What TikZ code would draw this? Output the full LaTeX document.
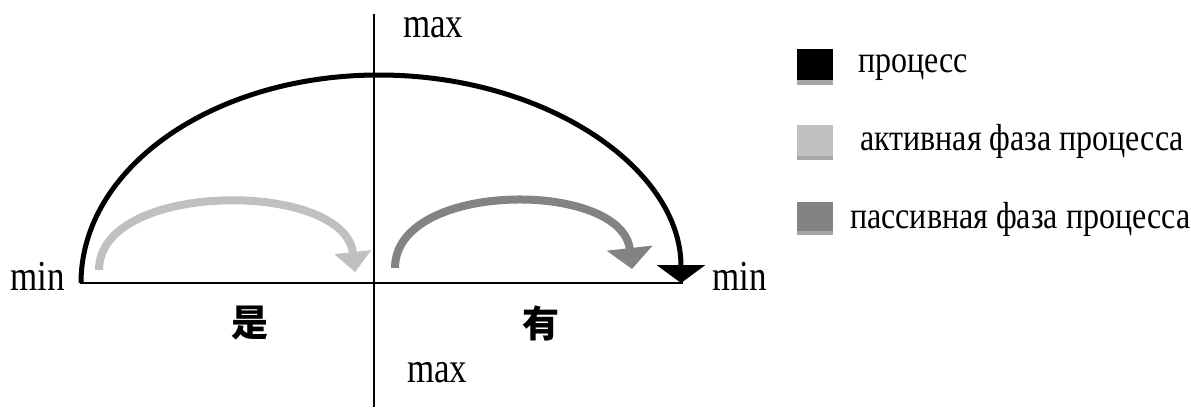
\documentclass[tikz,border=0pt]{standalone}
\usepackage{fontspec}
\setmainfont{Liberation Serif}
\newfontfamily\cjk{Noto Sans CJK SC}
\usetikzlibrary{arrows.meta}
\definecolor{lightg}{HTML}{C0C0C0}
\definecolor{darkg}{HTML}{838383}
\definecolor{shadowg}{HTML}{A6A6A6}
\tikzset{
  axis/.style={line width=2pt, black},
  lbl/.style={inner sep=0pt, anchor=base west, transform shape, yscale=1.22, font=\fontsize{35}{40}\selectfont},
  leg/.style={inner sep=0pt, anchor=base west, transform shape, yscale=1.18, font=\fontsize{32}{38}\selectfont},
  cjklbl/.style={inner sep=0pt, font=\cjk\bfseries\fontsize{37}{40}\selectfont},
  blackarrow/.style={line width=5pt, black, -{Triangle[width=48pt,length=18pt]}},
  lightarrow/.style={line width=8pt, lightg, -{Triangle[width=36pt,length=20pt]}},
  darkarrow/.style={line width=8pt, darkg, -{Triangle[width=45pt,length=21pt]}},
  legbox/.style={inner sep=0pt, minimum width=36pt, minimum height=31pt, anchor=north west},
  legbar/.style={fill=shadowg, draw=none}
}
\begin{document}
\begin{tikzpicture}[x=1pt,y=-1pt]
\useasboundingbox (0,0) rectangle (1191,407);
% axes
\coordinate (vtop) at (374,14);
\coordinate (vbot) at (374,407);
\coordinate (hl) at (80,283);
\coordinate (hr) at (683,283);
\draw[axis] (vtop) -- (vbot);
\draw[axis] (hl) -- (hr);
% axis labels
\node[lbl] (maxtop) at (403,37) {max};
\node[lbl] (maxbot) at (407,382) {max};
\node[lbl] (minl) at (10,290) {min};
\node[lbl] (minr) at (712,290) {min};
\node[cjklbl] (shi) at (250,323) {是};
\node[cjklbl] (you) at (541,323) {有};
% black process arc
\coordinate (bks) at (81,283);
\coordinate (bkt) at (379,75);
\coordinate (bke) at (681,283);
\draw[blackarrow] (bks) .. controls (81,168) and (213,75) .. (bkt)
  .. controls (545,75) and (681,168) .. (bke);
% light gray (active)
\coordinate (lgs) at (99,270);
\coordinate (lge) at (355,272);
\draw[lightarrow] (lgs) .. controls (99,180) and (345,180) .. (lge);
% dark gray (passive)
\coordinate (dgs) at (395,268);
\coordinate (dge) at (632,269);
\draw[darkarrow] (dgs) .. controls (395,180) and (622,180) .. (dge);
% legend
\fill[legbar] (797,80) rectangle (833,85);
\node[legbox, fill=black] (lb1) at (797,49) {};
\fill[legbar] (797,156) rectangle (833,160);
\node[legbox, fill=lightg] (lb2) at (797,125) {};
\fill[legbar] (797,231) rectangle (833,235);
\node[legbox, fill=darkg, minimum height=29pt] (lb3) at (797,202) {};
\node[leg] (lt1) at (858,72) {процесс};
\node[leg] (lt2) at (860,150) {активная фаза процесса};
\node[leg] (lt3) at (850,228) {пассивная фаза процесса};
\end{tikzpicture}
\end{document}
